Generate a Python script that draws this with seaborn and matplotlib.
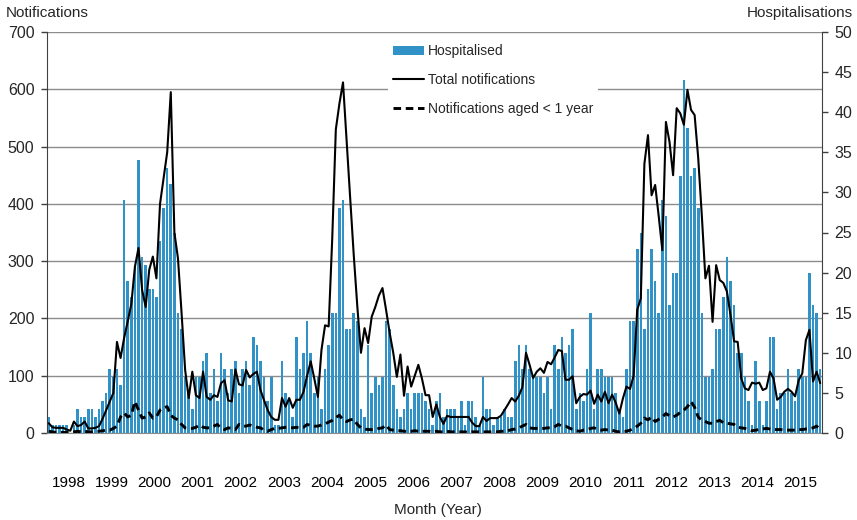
import numpy as np
import pandas as pd
import seaborn as sns
import matplotlib.pyplot as plt
from matplotlib.patches import Patch
from matplotlib.lines import Line2D

years = list(range(1998, 2016))

# monthly values Jan 1998 - Dec 2015, one row per year
hospitalised = [
    2, 1, 1, 1, 1, 1, 0, 1, 3, 2, 2, 3,          # 1998
    3, 2, 3, 4, 5, 8, 7, 8, 6, 29, 19, 17,       # 1999
    21, 34, 22, 21, 18, 18, 17, 24, 28, 33, 31, 25,  # 2000
    15, 13, 7, 5, 3, 7, 7, 9, 10, 5, 8, 4,       # 2001
    10, 8, 5, 8, 9, 5, 8, 9, 6, 12, 11, 9,       # 2002
    7, 4, 7, 1, 1, 9, 5, 4, 2, 12, 8, 10,        # 2003
    14, 10, 5, 7, 3, 8, 11, 15, 15, 28, 29, 13,  # 2004
    13, 15, 14, 3, 2, 11, 5, 7, 6, 7, 14, 13,    # 2005
    6, 3, 2, 3, 5, 3, 5, 5, 5, 4, 3, 1,          # 2006
    4, 5, 2, 3, 3, 3, 2, 4, 1, 4, 4, 2,          # 2007
    1, 7, 3, 3, 1, 2, 2, 3, 2, 2, 9, 11,         # 2008
    8, 11, 8, 7, 7, 7, 5, 7, 3, 11, 8, 12,       # 2009
    10, 11, 13, 3, 5, 4, 8, 15, 3, 8, 8, 7,      # 2010
    7, 7, 5, 3, 2, 8, 14, 14, 23, 25, 13, 18,    # 2011
    23, 19, 15, 29, 27, 16, 20, 20, 32, 44, 38, 32,  # 2012
    33, 28, 15, 7, 7, 8, 13, 13, 17, 22, 19, 16, # 2013
    10, 10, 7, 4, 1, 9, 4, 1, 4, 12, 12, 3,      # 2014
    5, 5, 8, 5, 4, 8, 7, 7, 20, 16, 15, 8,       # 2015
]

total_notifications = [
    17, 10, 9, 9, 9, 6, 4, 20, 12, 14, 20, 8,
    8, 9, 12, 25, 40, 55, 70, 159, 131, 166, 195, 225,
    290, 323, 250, 220, 285, 308, 270, 400, 445, 490, 595, 350,
    305, 210, 110, 61, 107, 66, 61, 107, 63, 58, 66, 63,
    87, 92, 57, 55, 111, 85, 83, 110, 97, 103, 107, 75,
    57, 40, 28, 23, 23, 61, 46, 61, 44, 58, 58, 72,
    100, 125, 95, 63, 145, 188, 186, 340, 530, 575, 612, 510,
    410, 310, 220, 140, 183, 157, 203, 220, 240, 253, 215, 175,
    140, 98, 137, 65, 116, 81, 100, 119, 95, 66, 66, 28,
    50, 28, 16, 30, 28, 28, 28, 28, 28, 28, 18, 12,
    12, 28, 21, 26, 26, 26, 30, 40, 50, 61, 55, 65,
    80, 140, 119, 96, 107, 113, 105, 124, 120, 132, 145, 143,
    93, 93, 99, 52, 63, 68, 67, 74, 51, 67, 55, 72,
    52, 67, 53, 34, 60, 81, 77, 100, 215, 235, 470, 520,
    415, 433, 378, 319, 543, 508, 450, 567, 558, 538, 599, 564,
    555, 480, 380, 270, 292, 194, 293, 267, 262, 247, 206, 160,
    159, 95, 78, 75, 88, 86, 88, 75, 78, 107, 95, 58,
    63, 72, 77, 72, 64, 92, 104, 162, 180, 90, 107, 87,
]

under_one = [
    3, 2, 1, 1, 1, 1, 1, 2, 3, 2, 3, 2,
    2, 3, 3, 4, 5, 5, 8, 12, 28, 35, 28, 31,
    55, 40, 26, 28, 35, 26, 28, 40, 44, 46, 31, 26,
    23, 15, 9, 8, 8, 10, 14, 10, 9, 9, 12, 15,
    8, 6, 9, 8, 6, 15, 12, 12, 14, 12, 10, 9,
    5, 3, 6, 8, 8, 9, 10, 10, 9, 10, 9, 10,
    15, 13, 12, 12, 14, 16, 19, 22, 27, 31, 23, 20,
    23, 24, 15, 9, 7, 6, 6, 6, 8, 9, 14, 6,
    5, 4, 4, 3, 3, 3, 4, 3, 3, 3, 3, 2,
    3, 2, 2, 3, 2, 2, 2, 2, 2, 1, 2, 2,
    2, 2, 2, 2, 2, 2, 3, 3, 4, 6, 7, 9,
    12, 15, 9, 8, 8, 8, 8, 9, 9, 11, 15, 12,
    12, 9, 6, 4, 3, 5, 6, 8, 9, 6, 5, 6,
    5, 5, 3, 2, 3, 3, 5, 8, 12, 17, 26, 23,
    28, 20, 24, 28, 34, 30, 28, 31, 36, 40, 46, 55,
    45, 28, 22, 20, 17, 17, 20, 22, 18, 17, 16, 15,
    10, 9, 8, 6, 4, 5, 6, 7, 8, 7, 6, 6,
    6, 5, 5, 5, 5, 6, 6, 7, 8, 9, 12, 6,
]

df = pd.DataFrame({
    'month': np.arange(len(hospitalised)),
    'hosp': hospitalised,
    'total': total_notifications,
    'infant': under_one,
})

sns.set_style('white')
plt.rcParams['font.family'] = ['Liberation Sans', 'DejaVu Sans']

bar_col = '#3192c8'
axis_col = '#404040'
grid_col = '#8c8c8c'
dash = (0, (2.6, 1.6))

fig = plt.figure(figsize=(8.57, 5.2), dpi=100)
ax = fig.add_axes([47 / 857, 1 - 433 / 520, 775 / 857, 401 / 520])
ax2 = ax.twinx()   # hospitalisations (bars)
ax3 = ax.twinx()   # notification lines, drawn on top

sns.barplot(data=df, x='month', y='hosp', ax=ax2, color=bar_col,
            width=0.72, linewidth=0, saturation=1)
sns.lineplot(data=df, x='month', y='total', ax=ax3, color='black', lw=1.5)
sns.lineplot(data=df, x='month', y='infant', ax=ax3, color='black', lw=2.1,
             linestyle=dash)

ax.set_ylim(0, 700)
ax3.set_ylim(0, 700)
ax2.set_ylim(0, 50)
ax.set_xlim(-0.5, len(hospitalised) - 0.5)

ax.set_yticks(np.arange(0, 701, 100))
ax.yaxis.grid(True, color=grid_col, lw=1)
ax.set_axisbelow(True)
ax2.set_yticks(np.arange(0, 51, 5))

# year labels centred, separators at year boundaries
ax.set_xticks(np.arange(len(years)) * 12 + 5.5)
ax.set_xticklabels([str(y) for y in years])
ax.set_xticks(np.arange(-0.5, len(hospitalised), 12), minor=True)
ax.tick_params(axis='x', which='major', length=0, pad=31, labelsize=11,
               labelcolor='black')
ax.tick_params(axis='x', which='minor', length=42, width=1, color=grid_col)
ax.tick_params(axis='y', length=4, width=1, color=axis_col, pad=5,
               labelsize=11.5)
ax2.tick_params(axis='y', length=4, width=1, color=axis_col, pad=5,
                labelsize=11.5)
ax3.set_yticks([])

for a in (ax, ax2, ax3):
    a.set_xlabel('')
    a.set_ylabel('')
    a.spines['top'].set_visible(False)
for a in (ax2, ax3):
    a.spines['left'].set_visible(False)
    a.spines['bottom'].set_visible(False)
ax3.spines['right'].set_visible(False)
ax.spines['right'].set_visible(False)
ax.spines['left'].set_color(axis_col)
ax2.spines['right'].set_color(axis_col)
ax.spines['bottom'].set_color(grid_col)

fig.text(6 / 857, 1 - 13 / 520, 'Notifications', fontsize=11, va='center')
fig.text(853 / 857, 1 - 13 / 520, 'Hospitalisations', fontsize=11,
         va='center', ha='right')
fig.text(438 / 857, 1 - 510 / 520, 'Month (Year)', fontsize=11,
         va='center', ha='center')

handles = [
    Patch(facecolor=bar_col, edgecolor='none'),
    Line2D([], [], color='black', lw=1.5),
    Line2D([], [], color='black', lw=2.1, linestyle=dash),
]
labels = ['Hospitalised', 'Total notifications', 'Notifications aged < 1 year']
leg = ax3.legend(handles, labels, loc='upper left',
                 bbox_to_anchor=((381 - 47) / 775, (433 - 32) / 401),
                 frameon=True, fontsize=10, labelspacing=1.05,
                 handlelength=2.2, handletextpad=0.25, borderpad=0.4,
                 handleheight=0.6)
leg.get_frame().set_facecolor('white')
leg.get_frame().set_edgecolor('none')
leg.get_frame().set_alpha(1)

fig.savefig('out.png', dpi=100)
